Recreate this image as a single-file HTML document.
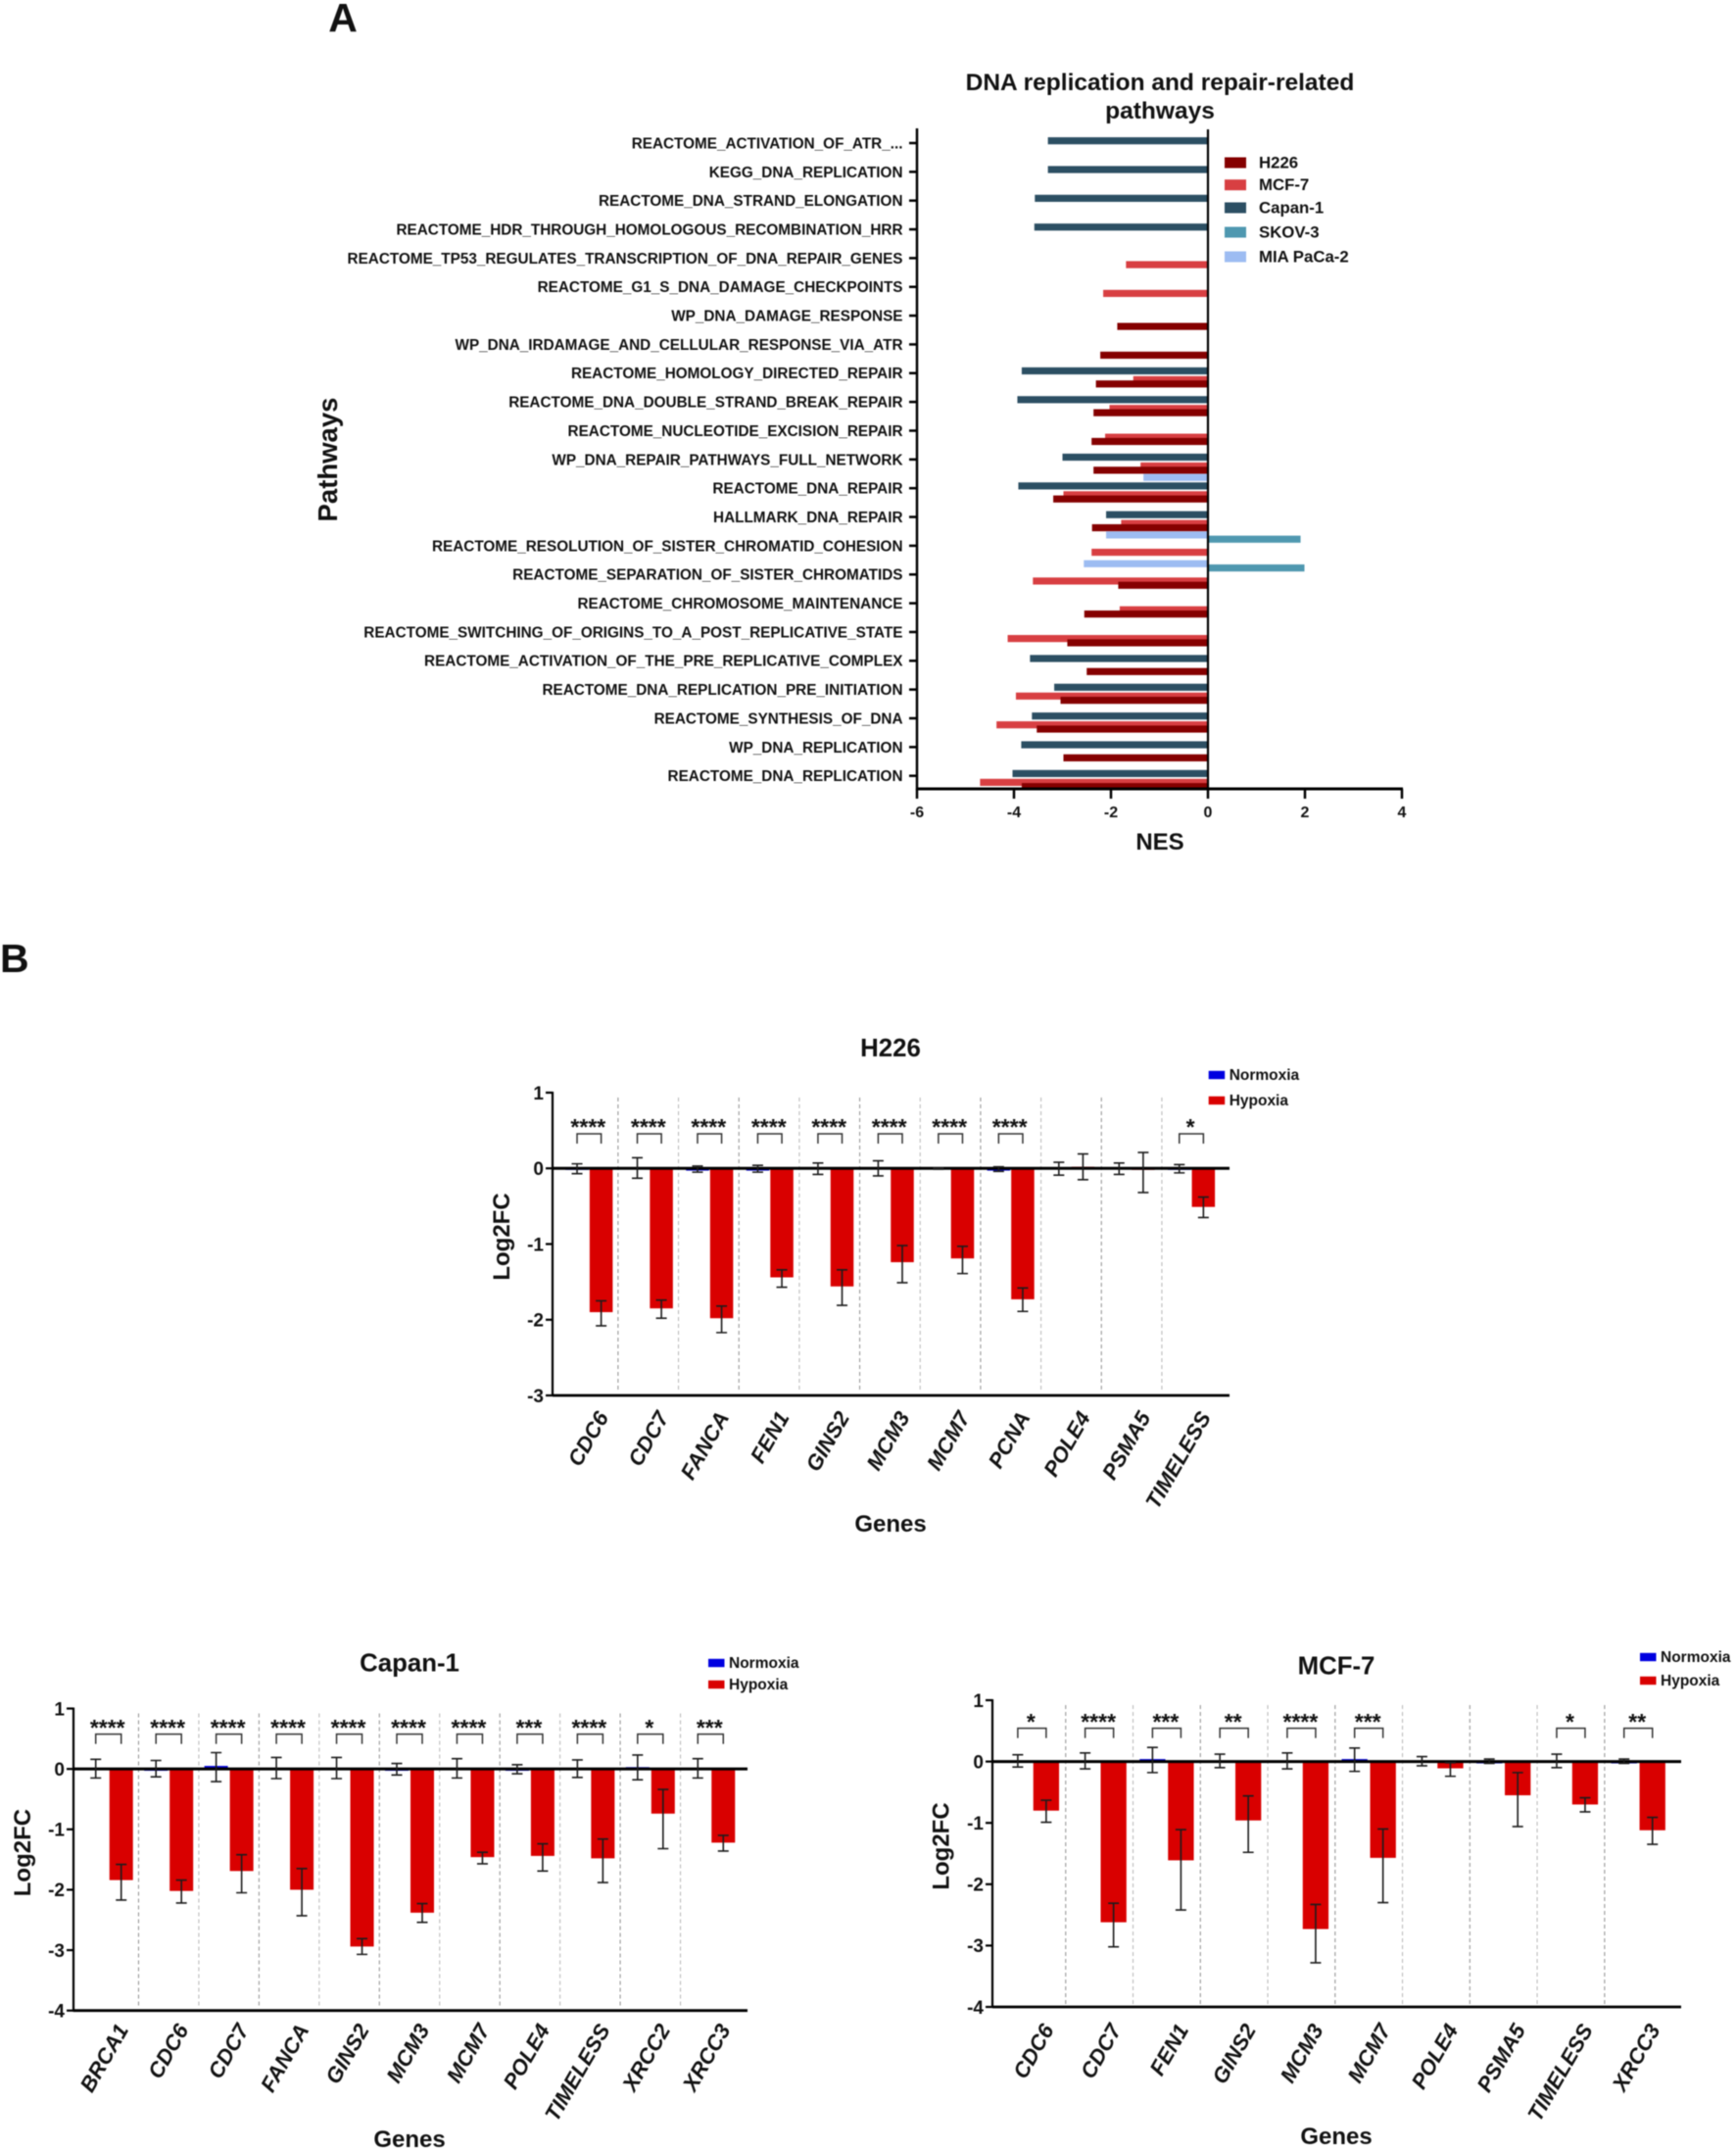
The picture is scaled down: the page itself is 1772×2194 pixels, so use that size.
<!DOCTYPE html>
<html lang="en">
<head>
<meta charset="utf-8">
<title>DNA replication and repair pathways and gene expression</title>
<style>
html,body{margin:0;padding:0;background:#fff;}
#figure{display:block;width:1772px;height:2194px;filter:blur(0.45px);}
text{font-family:"Liberation Sans",sans-serif;font-weight:bold;fill:#111;}
</style>
</head>
<body>
<svg id="figure" xmlns="http://www.w3.org/2000/svg" width="1772" height="2194" viewBox="0 0 1772 2194">
  <rect x="0" y="0" width="1772" height="2194" fill="#ffffff"/>
  <text x="350" y="32" font-size="41" text-anchor="middle">A</text>
  <text x="0" y="992" font-size="41">B</text>
</svg>
<script>
// ---------- Panel A data ----------
const pathways = [
  "REACTOME_ACTIVATION_OF_ATR_...","KEGG_DNA_REPLICATION","REACTOME_DNA_STRAND_ELONGATION",
  "REACTOME_HDR_THROUGH_HOMOLOGOUS_RECOMBINATION_HRR","REACTOME_TP53_REGULATES_TRANSCRIPTION_OF_DNA_REPAIR_GENES",
  "REACTOME_G1_S_DNA_DAMAGE_CHECKPOINTS","WP_DNA_DAMAGE_RESPONSE","WP_DNA_IRDAMAGE_AND_CELLULAR_RESPONSE_VIA_ATR",
  "REACTOME_HOMOLOGY_DIRECTED_REPAIR","REACTOME_DNA_DOUBLE_STRAND_BREAK_REPAIR","REACTOME_NUCLEOTIDE_EXCISION_REPAIR",
  "WP_DNA_REPAIR_PATHWAYS_FULL_NETWORK","REACTOME_DNA_REPAIR","HALLMARK_DNA_REPAIR",
  "REACTOME_RESOLUTION_OF_SISTER_CHROMATID_COHESION","REACTOME_SEPARATION_OF_SISTER_CHROMATIDS","REACTOME_CHROMOSOME_MAINTENANCE",
  "REACTOME_SWITCHING_OF_ORIGINS_TO_A_POST_REPLICATIVE_STATE","REACTOME_ACTIVATION_OF_THE_PRE_REPLICATIVE_COMPLEX",
  "REACTOME_DNA_REPLICATION_PRE_INITIATION","REACTOME_SYNTHESIS_OF_DNA","WP_DNA_REPLICATION","REACTOME_DNA_REPLICATION"
];
const nesMia = [null,null,null,null,null,null,null,null,null,null,null,null,-1.33,null,-2.1,-2.56,null,null,null,null,null,null,null];
const nesSkov = [null,null,null,null,null,null,null,null,null,null,null,null,null,null,1.91,1.99,null,null,null,null,null,null,null];
const nesCapan = [-3.3,-3.3,-3.57,-3.58,null,null,null,null,-3.84,-3.93,null,-3.0,-3.91,-2.1,null,null,null,null,-3.67,-3.17,-3.63,-3.85,-4.03];
const nesMcf7 = [null,null,null,null,-1.69,-2.16,null,null,-1.54,-2.03,-2.12,-1.39,-2.98,-1.79,-2.4,-3.61,-1.82,-4.13,null,-3.96,-4.36,null,-4.7];
const nesH226 = [null,null,null,null,null,null,-1.87,-2.22,-2.31,-2.36,-2.4,-2.36,-3.19,-2.39,null,-1.85,-2.55,-2.9,-2.5,-3.04,-3.53,-2.98,-3.84];
const nesTicks = [-6,-4,-2,0,2,4];
const cellLines = ["H226","MCF-7","Capan-1","SKOV-3","MIA PaCa-2"];

// ---------- Panel B data: H226 ----------
const h226Genes = ["CDC6","CDC7","FANCA","FEN1","GINS2","MCM3","MCM7","PCNA","POLE4","PSMA5","TIMELESS"];
const h226Sig = ["****","****","****","****","****","****","****","****","","","*"];
const h226NormMean = [-0.02,0,-0.03,-0.03,-0.01,-0.01,-0.005,-0.03,-0.01,-0.01,-0.02];
const h226NormHi = [0.06,0.14,0.03,0.04,0.07,0.10,0.005,0.02,0.08,0.07,0.05];
const h226NormLo = [-0.07,-0.13,-0.05,-0.05,-0.08,-0.10,-0.01,-0.04,-0.09,-0.08,-0.06];
const h226HypMean = [-1.90,-1.85,-1.98,-1.44,-1.56,-1.24,-1.19,-1.73,0.02,-0.02,-0.51];
const h226HypHi = [-1.75,-1.74,-1.82,-1.34,-1.34,-1.02,-1.03,-1.58,0.19,0.21,-0.38];
const h226HypLo = [-2.08,-1.98,-2.17,-1.57,-1.81,-1.51,-1.39,-1.89,-0.15,-0.32,-0.65];
const h226Ticks = [1,0,-1,-2,-3];

// ---------- Panel B data: Capan-1 ----------
const capanGenes = ["BRCA1","CDC6","CDC7","FANCA","GINS2","MCM3","MCM7","POLE4","TIMELESS","XRCC2","XRCC3"];
const capanSig = ["****","****","****","****","****","****","****","***","****","*","***"];
const capanNormMean = [0,-0.03,0.05,0,0,-0.03,0,-0.03,0,0.03,0];
const capanNormHi = [0.16,0.14,0.27,0.19,0.19,0.09,0.17,0.07,0.15,0.23,0.17];
const capanNormLo = [-0.15,-0.13,-0.21,-0.16,-0.16,-0.10,-0.15,-0.08,-0.14,-0.18,-0.15];
const capanHypMean = [-1.84,-2.02,-1.69,-2.0,-2.94,-2.38,-1.46,-1.44,-1.48,-0.74,-1.22];
const capanHypHi = [-1.58,-1.84,-1.42,-1.65,-2.81,-2.23,-1.38,-1.24,-1.16,-0.34,-1.10];
const capanHypLo = [-2.17,-2.22,-2.05,-2.43,-3.07,-2.54,-1.57,-1.69,-1.88,-1.32,-1.36];
const capanTicks = [1,0,-1,-2,-3,-4];

// ---------- Panel B data: MCF-7 ----------
const mcfGenes = ["CDC6","CDC7","FEN1","GINS2","MCM3","MCM7","POLE4","PSMA5","TIMELESS","XRCC3"];
const mcfSig = ["*","****","***","**","****","***","","","*","**"];
const mcfNormMean = [0,0,0.04,0,0,0.04,0,-0.03,0,-0.03];
const mcfNormHi = [0.11,0.14,0.23,0.12,0.14,0.22,0.08,0.04,0.12,0.04];
const mcfNormLo = [-0.09,-0.12,-0.18,-0.10,-0.12,-0.16,-0.07,-0.03,-0.10,-0.03];
const mcfHypMean = [-0.80,-2.62,-1.61,-0.96,-2.73,-1.57,-0.11,-0.55,-0.70,-1.12];
const mcfHypHi = [-0.63,-2.31,-1.11,-0.56,-2.33,-1.10,-0.02,-0.18,-0.59,-0.91];
const mcfHypLo = [-0.99,-3.02,-2.42,-1.48,-3.28,-2.30,-0.24,-1.06,-0.82,-1.35];
const mcfTicks = [1,0,-1,-2,-3,-4];

// ---------- Drawing helpers ----------
const svg = document.getElementById('figure');
const NS = 'http://www.w3.org/2000/svg';
function mk(tag, attrs, parent) {
  const el = document.createElementNS(NS, tag);
  for (const k in attrs) el.setAttribute(k, attrs[k]);
  (parent || svg).appendChild(el);
  return el;
}
function mkText(str, attrs, parent) {
  const el = mk('text', attrs, parent);
  el.textContent = str;
  return el;
}
function mkLine(x1, y1, x2, y2, stroke, w, parent, dash) {
  const a = {x1: x1, y1: y1, x2: x2, y2: y2, stroke: stroke, 'stroke-width': w};
  if (dash) a['stroke-dasharray'] = dash;
  return mk('line', a, parent);
}

// ---------- Panel A ----------
function drawPanelA() {
  const g = mk('g', {});
  
  

  const xMin = -6, xMax = 4, xLeft = 936, xRight = 1431;
  const xOf = v => xLeft + (v - xMin) / (xMax - xMin) * (xRight - xLeft);
  const firstTick = 146, rowStep = 29.35, barH = 7.2;
  const yOf = i => firstTick + i * rowStep;
  const seriesDefs = [
    {vals: nesMia, off: -11, color: '#9dbcf2'},
    {vals: nesSkov, off: -6.67, color: '#4f98b0'},
    {vals: nesCapan, off: -2.33, color: '#2c4f63'},
    {vals: nesMcf7, off: 6.67, color: '#d83f42'},
    {vals: nesH226, off: 11, color: '#850000'}
  ];

  // bars, one row at a time so that later rows sit on top
  pathways.forEach((name, i) => {
    seriesDefs.forEach(s => {
      const v = s.vals[i];
      if (v === null) return;
      const x0 = xOf(0), x1 = xOf(v);
      const r = mk('rect', {x: Math.min(x0, x1), y: yOf(i) + s.off - barH / 2, width: Math.abs(x1 - x0), height: barH, fill: s.color}, g);
      
      
    });
  });

  // y axis + category labels
  const yAxis = mkLine(xLeft, 131, xLeft, 806, '#000', 2.5, g);
  
  
  pathways.forEach((name, i) => {
    const t = mkLine(xLeft - 8, yOf(i), xLeft, yOf(i), '#000', 2.5, g);
    
    
    const lab = mkText(name, {x: 921.5, y: yOf(i) + 5.4, 'font-size': 15.3, 'text-anchor': 'end'}, g);
    
    
  });

  // zero line and x axis
  const zero = mkLine(xOf(0), 132, xOf(0), 806, '#000', 2.2, g);
  
  
  const xAxis = mkLine(xLeft - 1, 805, xRight + 1, 805, '#000', 3, g);
  
  
  nesTicks.forEach(v => {
    const t = mkLine(xOf(v), 805, xOf(v), 815, '#000', 2.5, g);
    
    
    const lab = mkText(String(v), {x: xOf(v), y: 834, 'font-size': 16, 'text-anchor': 'middle'}, g);
    
    
  });

  // titles
  const t1 = mkText('DNA replication and repair-related', {x: 1184, y: 92, 'font-size': 24.5, 'text-anchor': 'middle'}, g);
  
  
  const t2 = mkText('pathways', {x: 1184, y: 121, 'font-size': 24.5, 'text-anchor': 'middle'}, g);
  
  
  const xt = mkText('NES', {x: 1184, y: 867, 'font-size': 24, 'text-anchor': 'middle'}, g);
  
  
  const yt = mkText('Pathways', {x: 0, y: 0, 'font-size': 27.5, 'text-anchor': 'middle', transform: 'translate(344 469) rotate(-90)'}, g);
  
  

  // legend
  const legendColors = ['#850000', '#d83f42', '#2c4f63', '#4f98b0', '#9dbcf2'];
  const legendY = [166, 188.7, 212, 237, 262];
  cellLines.forEach((name, i) => {
    const sw = mk('rect', {x: 1250, y: legendY[i] - 5.5, width: 22, height: 11, fill: legendColors[i]}, g);
    
    
    const lab = mkText(name, {x: 1285, y: legendY[i] + 5.5, 'font-size': 16.8}, g);
    
    
  });
}

// ---------- Panel B ----------
function drawGenePanel(p) {
  const g = mk('g', {});
  
  

  const yMax = p.ticks[0], yMin = p.ticks[p.ticks.length - 1];
  const yOf = v => p.yTop + (yMax - v) / (yMax - yMin) * (p.yBottom - p.yTop);
  const n = p.genes.length;
  const groupW = (p.plotEnd - p.plotStart) / n;
  const cx = i => p.plotStart + (i + 0.5) * groupW;
  const divStart = p.divStart === undefined ? p.plotStart : p.divStart;
  const divEnd = p.divEnd === undefined ? p.plotEnd : p.divEnd;
  const divW = (divEnd - divStart) / n;

  // dividers between genes
  for (let i = 1; i < n; i++) {
    const d = mkLine(divStart + i * divW, p.yTop + 5, divStart + i * divW, p.yBottom - 3, i % 2 ? '#8d8d8d' : '#b5b5b5', 1, g, '4 3');
    
    
  }

  // bars
  function bar(x, v, color) {
    const y0 = yOf(0), y1 = yOf(v);
    return mk('rect', {x: x - p.barW / 2, y: Math.min(y0, y1), width: p.barW, height: Math.abs(y1 - y0), fill: color}, g);
  }
  p.genes.forEach((gene, i) => {
    const nb = bar(cx(i) - p.offset, p.normMean[i], '#0000e0');
    
    
    const hb = bar(cx(i) + p.offset, p.hypMean[i], '#d90000');
    
    
  });

  // zero line
  const zero = mkLine(p.xAxis, yOf(0), p.xRight, yOf(0), '#000', 3, g);
  
  

  // error bars
  function err(x, hi, lo) {
    const e = mk('path', {
      d: 'M' + (x - 5.5) + ' ' + yOf(hi) + 'H' + (x + 5.5) + 'M' + x + ' ' + yOf(hi) + 'V' + yOf(lo) + 'M' + (x - 5.5) + ' ' + yOf(lo) + 'H' + (x + 5.5),
      stroke: '#1c1c1c', 'stroke-width': 1.6, fill: 'none'
    }, g);
    return e;
  }
  p.genes.forEach((gene, i) => {
    const ne = err(cx(i) - p.offset, p.normHi[i], p.normLo[i]);
    
    
    const he = err(cx(i) + p.offset, p.hypHi[i], p.hypLo[i]);
    
    
  });

  // significance brackets
  p.sig.forEach((s, i) => {
    if (!s) return;
    const x0 = cx(i) - p.offset, x1 = cx(i) + p.offset;
    const b = mk('path', {d: 'M' + x0 + ' ' + p.bracketBottom + 'V' + p.bracketTop + 'H' + x1 + 'V' + p.bracketBottom, stroke: '#333', 'stroke-width': 1.5, fill: 'none'}, g);
    
    
    const st = mkText(s, {x: cx(i) - 1, y: p.starBaseline, 'font-size': 23, 'text-anchor': 'middle'}, g);
    
    
  });

  // axes
  const ya = mkLine(p.xAxis, p.yTop - 1, p.xAxis, p.yBottom + 1, '#000', 2.2, g);
  
  
  const xa = mkLine(p.xAxis, p.yBottom, p.xRight, p.yBottom, '#000', 2.8, g);
  
  
  p.ticks.forEach(v => {
    const t = mkLine(p.xAxis - 7, yOf(v), p.xAxis, yOf(v), '#000', 2.2, g);
    
    
    const lab = mkText(String(v), {x: p.xAxis - 9, y: yOf(v) + 6.8, 'font-size': 19, 'text-anchor': 'end'}, g);
    
    
  });

  // gene labels
  p.genes.forEach((gene, i) => {
    const ax = cx(i) + p.labelDx, ay = p.labelY;
    const lab = mkText(gene, {x: ax, y: ay, 'font-size': 22, 'font-style': 'italic', 'text-anchor': 'end', transform: 'rotate(-60 ' + ax + ' ' + ay + ')'}, g);
    
    
  });

  // titles
  const tt = mkText(p.title, {x: p.titleX, y: p.titleY, 'font-size': 25.8, 'text-anchor': 'middle'}, g);
  
  
  const gt = mkText('Genes', {x: p.titleX, y: p.genesY, 'font-size': 24, 'text-anchor': 'middle'}, g);
  
  
  const lt = mkText('Log2FC', {x: 0, y: 0, 'font-size': 24, 'text-anchor': 'middle', transform: 'translate(' + p.logX + ' ' + p.logY + ') rotate(-90)'}, g);
  
  

  // legend
  const s1 = mk('rect', {x: p.legX, y: p.legY1 - 4.2, width: 16.5, height: 8.4, fill: '#0000e0'}, g);
  
  
  const l1 = mkText('Normoxia', {x: p.legX + 21, y: p.legY1 + 5, 'font-size': 15.5}, g);
  
  
  const s2 = mk('rect', {x: p.legX, y: p.legY2 - 4.2, width: 16.5, height: 8.4, fill: '#d90000'}, g);
  
  
  const l2 = mkText('Hypoxia', {x: p.legX + 21, y: p.legY2 + 5, 'font-size': 15.5}, g);
  
  
}

drawPanelA();

drawGenePanel({
  title: 'H226', genes: h226Genes, sig: h226Sig, ticks: h226Ticks,
  normMean: h226NormMean, normHi: h226NormHi, normLo: h226NormLo,
  hypMean: h226HypMean, hypHi: h226HypHi, hypLo: h226HypLo,
  xAxis: 564, xRight: 1255, yTop: 1115, yBottom: 1424,
  plotStart: 570.6, plotEnd: 1246.8, divStart: 569.2, divEnd: 1247.6, offset: 12.3, barW: 23.5,
  bracketTop: 1157, bracketBottom: 1167, starBaseline: 1158,
  labelDx: 20.5, labelY: 1446, titleX: 909, titleY: 1078, genesY: 1563,
  logX: 520, logY: 1262, legX: 1233.7, legY1: 1097, legY2: 1123
});

drawGenePanel({
  title: 'Capan-1', genes: capanGenes, sig: capanSig, ticks: capanTicks,
  normMean: capanNormMean, normHi: capanNormHi, normLo: capanNormLo,
  hypMean: capanHypMean, hypHi: capanHypHi, hypLo: capanHypLo,
  xAxis: 75, xRight: 763, yTop: 1743.5, yBottom: 2051.7,
  plotStart: 80, plotEnd: 756, offset: 13, barW: 24,
  bracketTop: 1769.6, bracketBottom: 1779.6, starBaseline: 1771,
  labelDx: 21, labelY: 2071, titleX: 418, titleY: 1705.5, genesY: 2191,
  logX: 31, logY: 1890.6, legX: 723, legY1: 1697, legY2: 1719
});

drawGenePanel({
  title: 'MCF-7', genes: mcfGenes, sig: mcfSig, ticks: mcfTicks,
  normMean: mcfNormMean, normHi: mcfNormHi, normLo: mcfNormLo,
  hypMean: mcfHypMean, hypHi: mcfHypHi, hypLo: mcfHypLo,
  xAxis: 1013, xRight: 1716, yTop: 1735, yBottom: 2048,
  plotStart: 1019, plotEnd: 1706.6, offset: 14.5, barW: 26.3,
  bracketTop: 1763.6, bracketBottom: 1773.6, starBaseline: 1765,
  labelDx: 23, labelY: 2071, titleX: 1364, titleY: 1708.5, genesY: 2188,
  logX: 968.7, logY: 1884, legX: 1674, legY1: 1691, legY2: 1715
});
</script>
</body>
</html>
